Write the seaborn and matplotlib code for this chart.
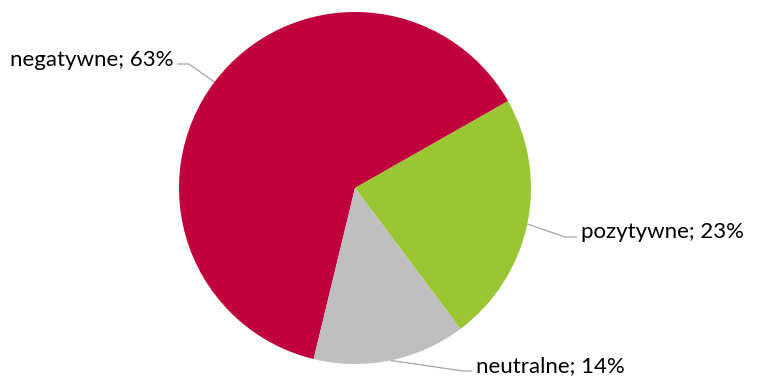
import numpy as np
import matplotlib
matplotlib.use('Agg')
import matplotlib.pyplot as plt
import seaborn as sns

# data
labels = ['negatywne', 'pozytywne', 'neutralne']
shares = [63, 23, 14]
colors = ['#C0003C', '#9BC634', '#BFBFBF']

sns.set_theme(style='white')
plt.rcParams['font.family'] = ['Lato', 'DejaVu Sans']

W, H = 760, 378
fig = plt.figure(figsize=(W / 100, H / 100), dpi=100)
ax = fig.add_axes([0, 0, 1, 1])

cx, cy, r = 355, 188, 176
# y axis points down, so counterclock=True here turns clockwise on screen
wedges, _ = ax.pie(shares, colors=colors, center=(cx, cy), radius=r,
                   startangle=-(29.6 + 226.8), counterclock=True,
                   wedgeprops=dict(linewidth=0), frame=True)
ax.set_xlim(0, W)
ax.set_ylim(H, 0)
ax.set_aspect('equal')
ax.axis('off')

# label layout: (elbow, line end, text pos, ha)
layout = {
    'negatywne': ((189, 64), (177, 64), (173, 60), 'right'),
    'pozytywne': ((565, 237), (577, 237), (581, 232), 'left'),
    'neutralne': ((463, 371), (472, 371), (476, 366), 'left'),
}

for w, lab, val in zip(wedges, labels, shares):
    mid = np.deg2rad((w.theta1 + w.theta2) / 2)
    sx, sy = cx + r * np.cos(mid), cy + r * np.sin(mid)
    elbow, end, tpos, ha = layout[lab]
    ax.plot([sx, elbow[0], end[0]], [sy, elbow[1], end[1]],
            color='#A6A6A6', lw=0.9, solid_capstyle='butt')
    ax.text(tpos[0], tpos[1], f'{lab}; {val}%', ha=ha, va='center',
            fontsize=16, color='#000000')

fig.savefig('out.png', dpi=100)
